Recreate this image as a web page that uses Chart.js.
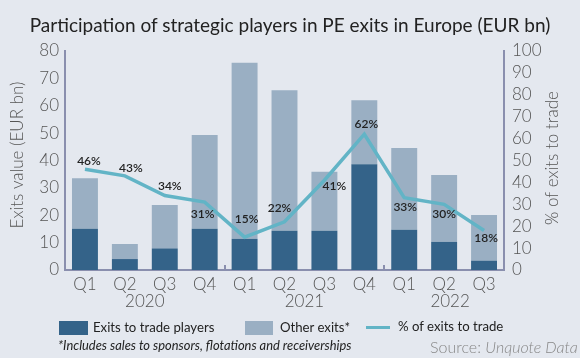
<!DOCTYPE html>
<html><head><meta charset="utf-8">
<script src="https://cdn.jsdelivr.net/npm/chart.js@4"></script>
<style>
html,body{margin:0;padding:0;background:#e4e8ef;}
#wrap{position:relative;width:580px;height:358px;overflow:hidden;font-family:Lato,"Open Sans",sans-serif;}
canvas{position:absolute;left:0;top:0;}
.t{position:absolute;white-space:nowrap;line-height:1;}
.box{position:absolute;}
</style></head>
<body>
<div id="wrap">
<canvas id="c" width="580" height="358"></canvas>
<div class="t" id="title" style="left:0;width:580px;text-align:center;top:15px;font-size:19px;color:#222;">Participation of strategic players in PE exits in Europe (EUR bn)</div>
<div class="box" style="left:59px;top:321px;width:29px;height:14px;background:#346389;"></div>
<div class="t" style="left:93px;top:321px;font-size:13.2px;color:#222;">Exits to trade players</div>
<div class="box" style="left:245px;top:321px;width:28px;height:14px;background:#9aafc3;"></div>
<div class="t" style="left:280px;top:321px;font-size:13.2px;color:#222;">Other exits*</div>
<div class="box" style="left:366px;top:326px;width:24px;height:3px;background:#62b4c6;"></div>
<div class="t" style="left:398px;top:320px;font-size:13.2px;color:#222;">% of exits to trade</div>
<div class="t" style="left:58px;top:339px;font-size:12.9px;font-style:italic;color:#222;">*Includes sales to sponsors, flotations and receiverships</div>
<div class="t" style="left:430px;top:339px;font-size:16px;font-weight:300;color:#888;">Source: <i>Unquote Data</i></div>
</div>
<script>
const quarters = ["Q1","Q2","Q3","Q4","Q1","Q2","Q3","Q4","Q1","Q2","Q3"];
const years = ["2020","2021","2022"];
const tradeExits = [15.1, 4.0, 7.9, 15.1, 11.4, 14.3, 14.3, 38.6, 14.7, 10.3, 3.4];
const otherExits = [18.4, 5.5, 15.8, 34.2, 64.3, 51.4, 21.6, 23.4, 29.9, 24.4, 16.7];
const pctTrade = [46, 43, 34, 31, 15, 22, 41, 62, 33, 30, 18];

const AXIS = '#8a8fae';
const TICK = '#555';
const yearPos = [1.5, 5.5, 9.15];
const groupBounds = [3.5, 7.5];
const labelOffsets = [[4,-8],[6,-8],[5,-9],[-2,12],[2,-18],[-5,-14],[10,6],[2,-10],[1,9],[0,10],[2,8]];

const extras = {
  id:'extras',
  afterDraw(chart){
    const ctx = chart.ctx, x = chart.scales.x, ca = chart.chartArea;
    ctx.save();
    ctx.strokeStyle = AXIS; ctx.lineWidth = 2;
    groupBounds.forEach(v=>{
      const px = Math.round(x.getPixelForValue(v));
      ctx.beginPath(); ctx.moveTo(px, ca.bottom); ctx.lineTo(px, ca.bottom-5); ctx.stroke();
    });
    ctx.fillStyle = TICK; ctx.font = '300 17px Lato'; ctx.textAlign='center'; ctx.textBaseline='middle';
    years.forEach((y,i)=>ctx.fillText(y, x.getPixelForValue(yearPos[i]), 302));
    ctx.save(); ctx.translate(18, 155); ctx.rotate(-Math.PI/2);
    ctx.fillText('Exits value (EUR bn)', 0, 0); ctx.restore();
    ctx.save(); ctx.translate(553, 158); ctx.rotate(-Math.PI/2);
    ctx.fillText('% of exits to trade', 0, 0); ctx.restore();
    const meta = chart.getDatasetMeta(0);
    ctx.fillStyle = '#222'; ctx.font = '600 12px Lato';
    meta.data.forEach((pt,i)=>{
      const o = labelOffsets[i];
      ctx.fillText(pctTrade[i]+'%', pt.x+o[0], pt.y+o[1]);
    });
    ctx.restore();
  }
};

const tickFont = {family:'Lato',size:17,weight:'300',lineHeight:1};

new Chart(document.getElementById('c'), {
  data:{
    labels: quarters,
    datasets:[
      {type:'line', label:'% of exits to trade', data:pctTrade, yAxisID:'y1', borderColor:'#62b4c6', borderWidth:3.5, pointRadius:0, tension:0, order:0},
      {type:'bar', label:'Exits to trade players', data:tradeExits, backgroundColor:'#346389', yAxisID:'y', stack:'s', order:2, barPercentage:0.65, categoryPercentage:1},
      {type:'bar', label:'Other exits*', data:otherExits, backgroundColor:'#9aafc3', yAxisID:'y', stack:'s', order:2, barPercentage:0.65, categoryPercentage:1}
    ]
  },
  options:{
    responsive:false, animation:false,
    layout:{padding:{top:51,left:0,right:0,bottom:0}},
    plugins:{legend:{display:false}, tooltip:{enabled:false}},
    scales:{
      x:{stacked:true, grid:{display:false, drawTicks:false}, border:{display:true,color:AXIS,width:2},
         ticks:{color:TICK, font:tickFont, padding:6, autoSkip:false, maxRotation:0},
         afterFit(s){ s.height = 88; }},
      y:{stacked:true, position:'left', min:0, max:80, grid:{display:false, drawTicks:false}, border:{display:true,color:AXIS,width:2},
         ticks:{stepSize:10, color:TICK, font:tickFont, padding:6, autoSkip:false},
         afterFit(s){ s.width = 65; }},
      y1:{position:'right', min:0, max:100, grid:{display:false, drawTicks:false}, border:{display:true,color:AXIS,width:2},
         ticks:{stepSize:10, color:TICK, font:tickFont, padding:8, autoSkip:false, maxTicksLimit:11},
         afterFit(s){ s.width = 76; }}
    }
  },
  plugins:[extras]
});
</script>
</body></html>
